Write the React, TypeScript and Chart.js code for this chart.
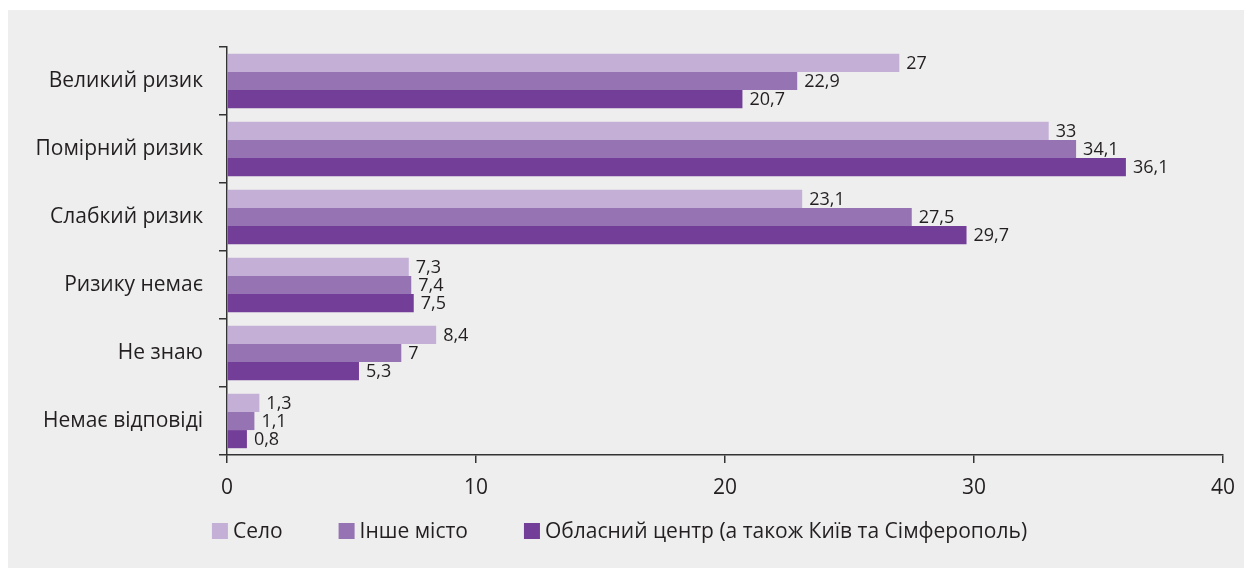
import React, { useEffect, useRef } from "react";
import { Chart, registerables } from "chart.js";
Chart.register(...registerables);

const categories = ["Великий ризик", "Помірний ризик", "Слабкий ризик", "Ризику немає", "Не знаю", "Немає відповіді"];
const seriesNames = ["Село", "Інше місто", "Обласний центр (а також Київ та Сімферополь)"];
const seloValues = [27, 33, 23.1, 7.3, 8.4, 1.3];
const insheMistoValues = [22.9, 34.1, 27.5, 7.4, 7, 1.1];
const oblCentrValues = [20.7, 36.1, 29.7, 7.5, 5.3, 0.8];
const xTickValues = [0, 10, 20, 30, 40];
const seriesColors = ["#c4b0d6", "#9673b2", "#733e97"];

const FONT = "'Open Sans', 'Noto Sans', sans-serif";
const TEXT = "#231f20";

const valueLabels = {
  id: "valueLabels",
  afterDatasetsDraw(chart: any) {
    const ctx = chart.ctx;
    ctx.save();
    ctx.font = `18px ${FONT}`;
    ctx.fillStyle = TEXT;
    ctx.textAlign = "left";
    ctx.textBaseline = "middle";
    chart.data.datasets.forEach((ds: any, i: number) => {
      const meta = chart.getDatasetMeta(i);
      meta.data.forEach((el: any, j: number) => {
        const v = ds.data[j];
        ctx.fillText(String(v).replace(".", ","), el.x + 7, el.y + 1);
      });
    });
    ctx.restore();
  },
};

const customLegend = {
  id: "customLegend",
  afterDraw(chart: any) {
    const ctx = chart.ctx;
    ctx.save();
    ctx.font = `21px ${FONT}`;
    ctx.textBaseline = "middle";
    ctx.textAlign = "left";
    const box = 16;
    const gapText = 5;
    const gapItem = 56;
    const items = chart.data.datasets.map((ds: any) => ({
      label: ds.label,
      color: ds.backgroundColor,
      w: ctx.measureText(ds.label).width,
    }));
    const total = items.reduce((s: number, it: any) => s + box + gapText + it.w, 0) + gapItem * (items.length - 1);
    let x = chart.width / 2 - 6.5 - total / 2;
    const cy = chart.chartArea.bottom + 76;
    items.forEach((it: any) => {
      ctx.fillStyle = it.color;
      ctx.fillRect(x, cy - box / 2, box, box);
      x += box + gapText;
      ctx.fillStyle = TEXT;
      ctx.fillText(it.label, x, cy + 1);
      x += it.w + gapItem;
    });
    ctx.restore();
  },
};

export default function App() {
  const ref = useRef<HTMLCanvasElement>(null);
  useEffect(() => {
    const chart = new Chart(ref.current!, {
      type: "bar",
      data: {
        labels: categories,
        datasets: [seloValues, insheMistoValues, oblCentrValues].map((d, i) => ({
          label: seriesNames[i],
          data: d,
          backgroundColor: seriesColors[i],
          borderWidth: 0,
          barPercentage: 1,
          categoryPercentage: 0.8,
        })),
      },
      options: {
        indexAxis: "y",
        animation: false,
        responsive: false,
        maintainAspectRatio: false,
        layout: { padding: { top: 37, right: 21, bottom: 65, left: 0 } },
        scales: {
          x: {
            min: 0,
            max: 40,
            afterBuildTicks: (s: any) => {
              s.ticks = xTickValues.map((v) => ({ value: v }));
            },
            afterFit: (s: any) => {
              s.height = 48;
              s.paddingLeft = 0;
              s.paddingRight = 0;
            },
            grid: { display: true, drawOnChartArea: false, drawTicks: true, tickLength: 8, color: "#333333", lineWidth: 1.5 },
            border: { display: true, color: "#333333", width: 1.5 },
            ticks: { color: TEXT, font: { family: FONT, size: 21 }, padding: 12 },
          },
          y: {
            afterFit: (s: any) => {
              s.width = 219;
              s.paddingTop = 0;
              s.paddingBottom = 0;
            },
            grid: { display: true, offset: true, drawOnChartArea: false, drawTicks: true, tickLength: 8, color: "#333333", lineWidth: 1.5 },
            border: { display: true, color: "#333333", width: 1.5 },
            ticks: { color: TEXT, font: { family: FONT, size: 21 }, padding: 16 },
          },
        },
        plugins: {
          legend: { display: false },
          tooltip: { enabled: false },
        },
      },
      plugins: [valueLabels, customLegend],
    });
    return () => chart.destroy();
  }, []);
  return (
    <div style={{ position: "absolute", left: 8, top: 10, width: 1236, height: 558, background: "#eeeeee" }}>
      <canvas ref={ref} width={1236} height={558} style={{ display: "block" }} />
    </div>
  );
}
